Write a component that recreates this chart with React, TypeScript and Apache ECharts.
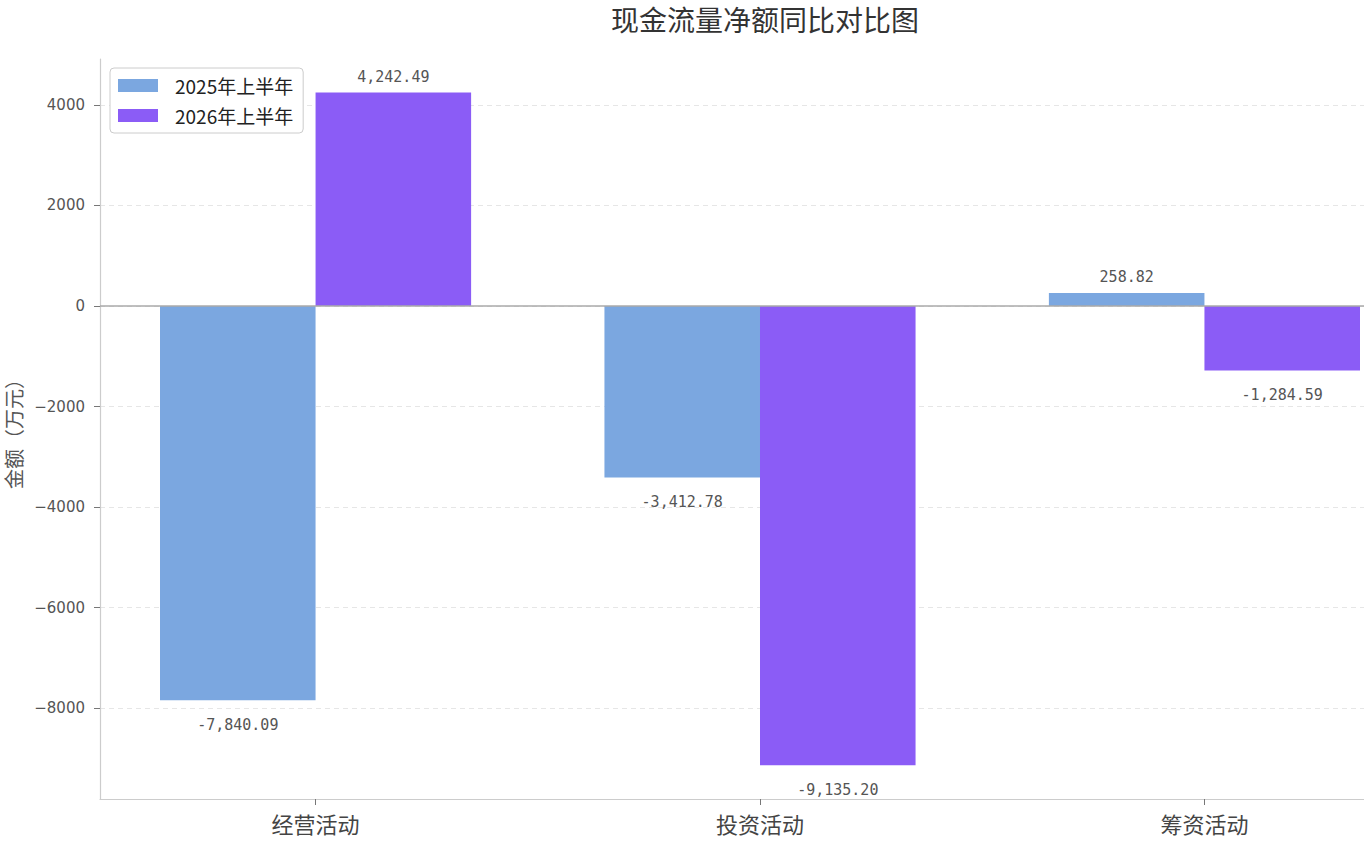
import React, { useEffect, useRef } from 'react';
import * as echarts from 'echarts';

const categories = ['经营活动', '投资活动', '筹资活动'];
const seriesNames = ['2025年上半年', '2026年上半年'];
const values2025 = [-7840.09, -3412.78, 258.82];
const values2026 = [4242.49, -9135.2, -1284.59];
const yTicks = [-8000, -6000, -4000, -2000, 0, 2000, 4000];
const colors = ['#7BA7E0', '#8B5CF6'];

const FONT = '"Noto Sans CJK SC", "Noto Sans", sans-serif';
const MONO = '"DejaVu Sans Mono", monospace';

function fmt(v: number): string {
  const s = Math.abs(v).toFixed(2);
  const [ip, dp] = s.split('.');
  const withComma = ip.replace(/\B(?=(\d{3})+(?!\d))/g, ',');
  return (v < 0 ? '-' : '') + withComma + '.' + dp;
}

function buildData(values: number[]) {
  return values.map((v, i) => ({
    value: [i, v],
    label: {
      show: true,
      position: v >= 0 ? 'top' : 'bottom',
      distance: v >= 0 ? 8 : 17,
      formatter: fmt(v),
      color: '#555',
      fontSize: 15,
      fontFamily: MONO,
    },
  }));
}

export default function App() {
  const ref = useRef<HTMLDivElement>(null);
  useEffect(() => {
    document.body.style.margin = '0';
    if (!ref.current) return;
    const chart = echarts.init(ref.current, undefined, { renderer: 'svg' });
    chart.setOption({
      animation: false,
      backgroundColor: '#fff',
      textStyle: { fontFamily: FONT },
      title: {
        text: '现金流量净额同比对比图',
        left: 760,
        textAlign: 'center',
        top: 0,
        textStyle: { fontSize: 28, fontWeight: 'normal', color: '#333', fontFamily: FONT },
      },
      legend: {
        orient: 'vertical',
        left: 110,
        top: 68,
        padding: [8, 10, 8, 8],
        itemWidth: 40,
        itemHeight: 13,
        itemGap: 11,
        icon: 'rect',
        borderColor: '#ccc',
        borderWidth: 1,
        borderRadius: 4,
        backgroundColor: '#fff',
        textStyle: { fontSize: 19, color: '#222', fontFamily: FONT, padding: [0, 0, 0, 12] },
        data: seriesNames,
      },
      grid: { left: 100, top: 59, width: 1320, height: 740, outerBoundsMode: 'none', containLabel: false },
      xAxis: {
        type: 'value',
        min: -0.485,
        max: 2.485,
        axisLine: { show: true, onZero: false, lineStyle: { color: '#ccc', width: 1.2 } },
        axisTick: { show: true, customValues: [0, 1, 2], length: 6, lineStyle: { color: '#777' } },
        axisLabel: {
          customValues: [0, 1, 2],
          formatter: (v: number) => categories[Math.round(v)],
          fontSize: 22,
          color: '#444',
          margin: 13,
          fontFamily: FONT,
        },
        splitLine: { show: false },
      },
      yAxis: {
        type: 'value',
        min: -9804,
        max: 4911,
        name: '金额（万元）',
        nameLocation: 'middle',
        nameGap: 73,
        nameTextStyle: { fontSize: 20, color: '#555', fontFamily: FONT },
        axisLine: { show: true, onZero: false, lineStyle: { color: '#ccc', width: 1.2 } },
        axisTick: { show: true, customValues: yTicks, length: 6, lineStyle: { color: '#777' } },
        axisLabel: {
          customValues: yTicks,
          formatter: (v: number) => String(v).replace('-', '\u2212'),
          fontSize: 15,
          color: '#555',
          margin: 15,
          fontFamily: '"DejaVu Sans", sans-serif',
        },
        splitLine: { show: true, lineStyle: { color: '#e6e6e6', type: [5, 4], width: 1 } },
      },
      series: [
        {
          name: seriesNames[0],
          type: 'bar',
          barWidth: '35%',
          barGap: '0%',
          itemStyle: { color: colors[0] },
          data: buildData(values2025),
          markLine: {
            silent: true,
            symbol: 'none',
            label: { show: false },
            lineStyle: { color: '#aaa', type: 'solid', width: 1.5 },
            data: [{ yAxis: 0 }],
          },
        },
        {
          name: seriesNames[1],
          type: 'bar',
          barWidth: '35%',
          barGap: '0%',
          itemStyle: { color: colors[1] },
          data: buildData(values2026),
        },
      ],
    });
    return () => chart.dispose();
  }, []);
  return (
    <div style={{ width: 1364, height: 841, overflow: 'hidden' }}>
      <div ref={ref} style={{ width: 1440, height: 841 }} />
    </div>
  );
}
